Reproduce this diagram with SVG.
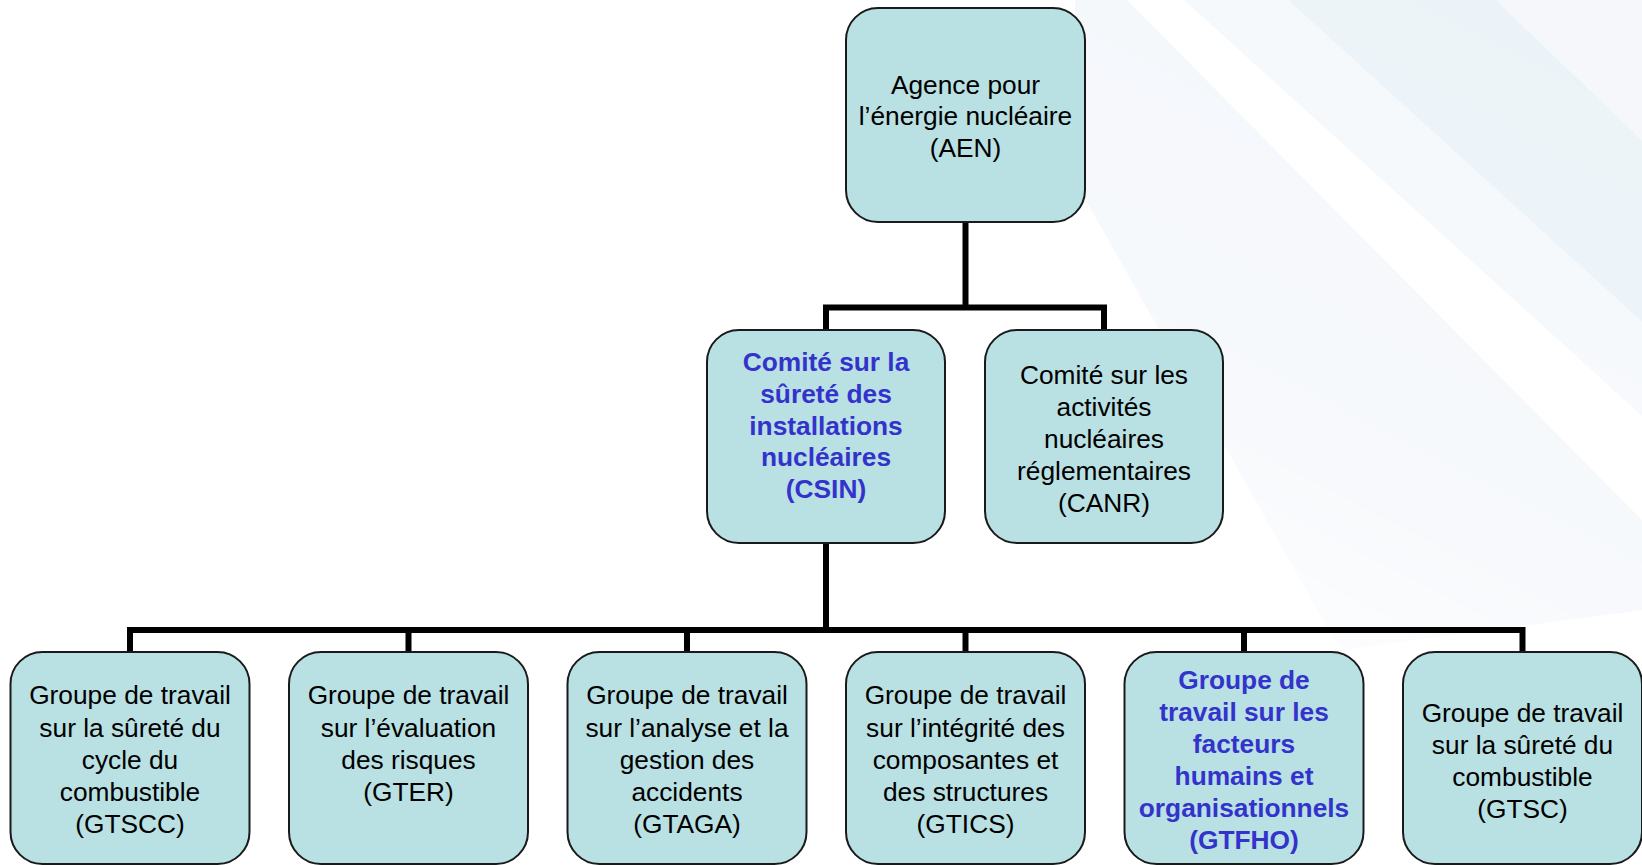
<svg xmlns="http://www.w3.org/2000/svg" width="1642" height="865" viewBox="0 0 1642 865">
  <defs>
    <linearGradient id="fade" gradientUnits="userSpaceOnUse" x1="1600" y1="0" x2="1250" y2="680">
      <stop offset="0" stop-color="#fff" stop-opacity="1"/>
      <stop offset="0.7" stop-color="#fff" stop-opacity="0.75"/>
      <stop offset="1" stop-color="#fff" stop-opacity="0.1"/>
    </linearGradient>
    <mask id="bgmask">
      <rect x="0" y="0" width="1642" height="865" fill="url(#fade)"/>
    </mask>
  </defs>
  <style>
    .box { fill: #B9E0E3; stroke: #1a1a1a; stroke-width: 2; }
    .t { font-family: "Liberation Sans", Arial, sans-serif; font-size: 26.3px; fill: #000; text-anchor: middle; }
    .b { font-family: "Liberation Sans", Arial, sans-serif; font-size: 26.3px; font-weight: bold; fill: #3333CC; text-anchor: middle; }
    .conn { fill: none; stroke: #000; stroke-width: 6; stroke-linejoin: miter; stroke-linecap: butt; }
  </style>
  <rect x="0" y="0" width="1642" height="865" fill="#ffffff"/>
  <g id="background" mask="url(#bgmask)">
    <polygon points="1075,0 1127,0 1642,520 1642,610 1340,650 1080,190" fill="#F4F7FB"/>
    <polygon points="1184,0 1288,0 1642,322 1642,416" fill="#F5F8FC"/>
    <polygon points="1288,0 1496,0 1642,140 1642,322" fill="#EBF3F8"/>
    <polygon points="1496,0 1642,0 1642,140" fill="#F6F7FB"/>
  </g>

  <g id="connectors">
    <polyline class="conn" points="965.5,222 965.5,307.5"/>
    <polyline class="conn" points="826,330 826,307.5 1104,307.5 1104,330"/>
    <polyline class="conn" points="826,543 826,630"/>
    <polyline class="conn" points="130,652 130,630 1522.5,630 1522.5,652"/>
    <line class="conn" x1="408.5" y1="630" x2="408.5" y2="652"/>
    <line class="conn" x1="687" y1="630" x2="687" y2="652"/>
    <line class="conn" x1="965.5" y1="630" x2="965.5" y2="652"/>
    <line class="conn" x1="1244" y1="630" x2="1244" y2="652"/>
  </g>

  <g id="node-aen">
    <rect class="box" x="846" y="8" width="239" height="214" rx="32" ry="32"/>
    <text class="t" x="965.5" y="93.5">Agence pour</text>
    <text class="t" x="965.5" y="125">l’énergie nucléaire</text>
    <text class="t" x="965.5" y="156.5">(AEN)</text>
  </g>

  <g id="node-csin">
    <rect class="box" x="707" y="330" width="238" height="213" rx="32" ry="32"/>
    <text class="b" x="826" y="370.5">Comité sur la</text>
    <text class="b" x="826" y="402.5">sûreté des</text>
    <text class="b" x="826" y="434.5">installations</text>
    <text class="b" x="826" y="466">nucléaires</text>
    <text class="b" x="826" y="498">(CSIN)</text>
  </g>

  <g id="node-canr">
    <rect class="box" x="985" y="330" width="238" height="213" rx="32" ry="32"/>
    <text class="t" x="1104" y="384">Comité sur les</text>
    <text class="t" x="1104" y="416">activités</text>
    <text class="t" x="1104" y="448">nucléaires</text>
    <text class="t" x="1104" y="480">réglementaires</text>
    <text class="t" x="1104" y="512">(CANR)</text>
  </g>

  <g id="node-gtscc">
    <rect class="box" x="10.5" y="652" width="239" height="212" rx="32" ry="32"/>
    <text class="t" x="130" y="704">Groupe de travail</text>
    <text class="t" x="130" y="736.5">sur la sûreté du</text>
    <text class="t" x="130" y="768.5">cycle du</text>
    <text class="t" x="130" y="800.5">combustible</text>
    <text class="t" x="130" y="833">(GTSCC)</text>
  </g>

  <g id="node-gter">
    <rect class="box" x="289" y="652" width="239" height="212" rx="32" ry="32"/>
    <text class="t" x="408.5" y="704">Groupe de travail</text>
    <text class="t" x="408.5" y="736.5">sur l’évaluation</text>
    <text class="t" x="408.5" y="768.5">des risques</text>
    <text class="t" x="408.5" y="800.5">(GTER)</text>
  </g>

  <g id="node-gtaga">
    <rect class="box" x="567.5" y="652" width="239" height="212" rx="32" ry="32"/>
    <text class="t" x="687" y="704">Groupe de travail</text>
    <text class="t" x="687" y="736.5">sur l’analyse et la</text>
    <text class="t" x="687" y="768.5">gestion des</text>
    <text class="t" x="687" y="800.5">accidents</text>
    <text class="t" x="687" y="833">(GTAGA)</text>
  </g>

  <g id="node-gtics">
    <rect class="box" x="846" y="652" width="239" height="212" rx="32" ry="32"/>
    <text class="t" x="965.5" y="704">Groupe de travail</text>
    <text class="t" x="965.5" y="736.5">sur l’intégrité des</text>
    <text class="t" x="965.5" y="768.5">composantes et</text>
    <text class="t" x="965.5" y="800.5">des structures</text>
    <text class="t" x="965.5" y="833">(GTICS)</text>
  </g>

  <g id="node-gtfho">
    <rect class="box" x="1124.5" y="652" width="239" height="212" rx="32" ry="32"/>
    <text class="b" x="1244" y="689">Groupe de</text>
    <text class="b" x="1244" y="721">travail sur les</text>
    <text class="b" x="1244" y="753">facteurs</text>
    <text class="b" x="1244" y="785">humains et</text>
    <text class="b" x="1244" y="817">organisationnels</text>
    <text class="b" x="1244" y="849">(GTFHO)</text>
  </g>

  <g id="node-gtsc">
    <rect class="box" x="1403" y="652" width="239" height="212" rx="32" ry="32"/>
    <text class="t" x="1522.5" y="722">Groupe de travail</text>
    <text class="t" x="1522.5" y="754">sur la sûreté du</text>
    <text class="t" x="1522.5" y="786">combustible</text>
    <text class="t" x="1522.5" y="818">(GTSC)</text>
  </g>
</svg>
